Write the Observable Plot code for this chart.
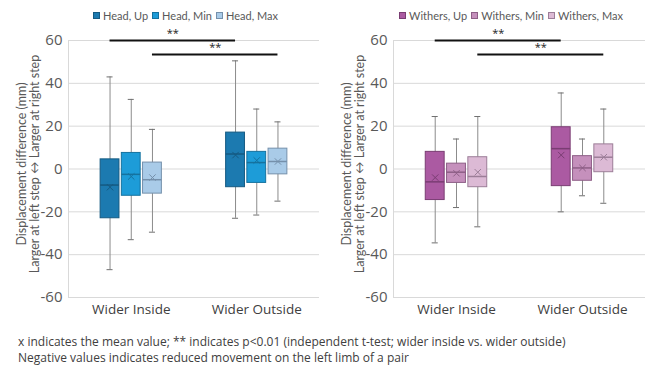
<!DOCTYPE html>
<html>
<head>
<meta charset="utf-8">
<script src="https://cdn.jsdelivr.net/npm/d3@7"></script>
<script src="https://cdn.jsdelivr.net/npm/@observablehq/plot@0.6"></script>
<style>
  body { margin: 0; background: #fff; font-family: "Open Sans", sans-serif; }
  #charts { display: flex; width: 651px; }
  .panel { flex: none; }
  .legend {
    height: 22px; padding-top: 4px; padding-left: 46px;
    display: flex; justify-content: center; align-items: center;
    font-family: Lato, sans-serif; font-size: 11px; color: #595959; white-space: nowrap;
  }
  .legend .item { display: inline-flex; align-items: center; margin: 0 2px; }
  .legend .sw { width: 7px; height: 7px; margin-right: 3px; box-sizing: border-box; border: 1px solid; }
  .panel svg { display: block; }
  #caption { padding: 8px 0 0 18px; font-size: 12px; line-height: 16px; color: #404040; }
</style>
</head>
<body>
<div id="charts">
  <div class="panel" id="head"></div>
  <div class="panel" id="withers"></div>
</div>
<div id="caption">
  <div>x indicates the mean value; ** indicates p&lt;0.01 (independent t-test; wider inside vs. wider outside)</div>
  <div>Negative values indicates reduced movement on the left limb of a pair</div>
</div>
<script>
// Stance-width groups and value-axis ticks
const groups = ["Wider Inside", "Wider Outside"];
const yTicks = [-60, -40, -20, 0, 20, 40, 60];

// Head displacement difference (mm); rows: group, columns: Up, Min, Max
const headSeries = ["Head, Up", "Head, Min", "Head, Max"];
const headLow    = [[-47.0, -33.0, -29.5], [-23.0, -21.5, -15.0]];
const headQ1     = [[-23.0, -12.5, -11.5], [ -8.5,  -6.5,  -2.5]];
const headMedian = [[ -7.5,  -2.5,  -5.0], [  7.0,   3.0,   3.5]];
const headQ3     = [[  4.5,   7.5,   3.0], [ 17.0,   8.0,   9.5]];
const headHigh   = [[ 43.0,  32.5,  18.5], [ 50.5,  28.0,  22.0]];
const headMean   = [[ -8.5,  -3.5,  -4.0], [  6.5,   4.0,   3.5]];

// Withers displacement difference (mm); rows: group, columns: Up, Min, Max
const withersSeries = ["Withers, Up", "Withers, Min", "Withers, Max"];
const withersLow    = [[-34.5, -18.0, -27.0], [-20.0, -12.5, -16.0]];
const withersQ1     = [[-14.5,  -6.5,  -8.5], [ -8.0,  -5.5,  -1.5]];
const withersMedian = [[ -6.0,  -1.5,  -3.5], [  9.5,   0.5,   5.5]];
const withersQ3     = [[  8.0,   2.5,   5.5], [ 19.5,   6.0,  11.5]];
const withersHigh   = [[ 24.5,  14.0,  24.5], [ 35.5,  14.0,  28.0]];
const withersMean   = [[ -4.0,  -2.0,  -1.5], [  6.5,   0.5,   5.5]];

// Significant wider-inside vs wider-outside comparisons: series index, bracket level, label
const sigSeries = [0, 2];
const sigLevels = [60, 53.5];
const sigLabels = ["**", "**"];

// Box styling per series
const headFill = ["#1c7ab0", "#1d9cd8", "#a9cbe8"];
const headStroke = ["#155a82", "#15729f", "#7590ab"];
const withersFill = ["#ab5aa2", "#c590bc", "#dcbad5"];
const withersStroke = ["#7a3d73", "#8e5f87", "#9c7e98"];

// Layout within a group: series spacing and box half-width, in group units
const SERIES_STEP = 0.169;
const BOX_HALF = 0.075;
const CAP_HALF = 0.024;
const centre = (gi, si) => gi + 0.5 + (si - 1) * SERIES_STEP;

function legend(series, fills, strokes) {
  const div = document.createElement("div");
  div.className = "legend";
  series.forEach((s, i) => {
    const item = document.createElement("span");
    item.className = "item";
    const sw = document.createElement("span");
    sw.className = "sw";
    sw.style.background = fills[i];
    sw.style.borderColor = strokes[i];
    const t = document.createElement("span");
    t.textContent = s;
    item.append(sw, t);
    div.append(item);
  });
  return div;
}

function panel(el, width, spec) {
  const {series, low, q1, median, q3, high, mean, fill, stroke} = spec;
  const rows = [];
  groups.forEach((g, gi) => series.forEach((s, si) => rows.push({
    group: g, series: s, si,
    x: centre(gi, si),
    low: low[gi][si], q1: q1[gi][si], median: median[gi][si],
    q3: q3[gi][si], high: high[gi][si], mean: mean[gi][si]
  })));
  const brackets = sigSeries.map((si, k) => ({
    x1: centre(0, si), x2: centre(1, si),
    xm: (centre(0, si) + centre(1, si)) / 2,
    y: sigLevels[k], label: sigLabels[k]
  }));
  const fillOf = d => fill[d.si];
  const strokeOf = d => stroke[d.si];

  const chart = Plot.plot({
    width, height: 300,
    marginTop: 14, marginBottom: 29, marginLeft: 68, marginRight: 6,
    x: {domain: [0, 2]},
    y: {domain: [-60, 60]},
    style: {fontFamily: "Open Sans, sans-serif", fontSize: "14px", background: "white", overflow: "visible"},
    marks: [
      Plot.gridY(yTicks, {stroke: "#d9d9d9", strokeOpacity: 1}),
      Plot.ruleX([0], {stroke: "#d9d9d9"}),
      Plot.axisY(yTicks, {tickSize: 0, tickPadding: 6, fontSize: 15, fill: "#595959", label: null,
        tickFormat: d => String(d)}),
      Plot.axisX([0.5, 1.5], {tickSize: 0, tickPadding: 7, fontSize: 13.5, fill: "#404040", label: null,
        tickFormat: v => groups[Math.floor(v)]}),
      // y-axis title, two lines, centred on the value axis
      Plot.text(["Displacement difference (mm)\nLarger at left step \u2194 Larger at right step"], {
        text: d => d, frameAnchor: "left", textAnchor: "middle", rotate: -90, dx: -40, dy: -5,
        fontFamily: "'Liberation Sans Narrow', Lato, sans-serif", fontSize: 12.5, lineHeight: 1.0, fill: "#595959"
      }),
      // whiskers and caps
      Plot.ruleX(rows, {x: "x", y1: "low", y2: "high", stroke: "#8c8c8c", strokeWidth: 1}),
      Plot.ruleY(rows, {y: "low", x1: d => d.x - CAP_HALF, x2: d => d.x + CAP_HALF, stroke: "#6f6f6f", strokeWidth: 1}),
      Plot.ruleY(rows, {y: "high", x1: d => d.x - CAP_HALF, x2: d => d.x + CAP_HALF, stroke: "#6f6f6f", strokeWidth: 1}),
      // interquartile boxes
      Plot.rect(rows, {x1: d => d.x - BOX_HALF, x2: d => d.x + BOX_HALF, y1: "q1", y2: "q3",
        fill: fillOf, stroke: strokeOf, strokeWidth: 1}),
      // medians
      Plot.ruleY(rows, {y: "median", x1: d => d.x - BOX_HALF, x2: d => d.x + BOX_HALF, stroke: strokeOf, strokeWidth: 1.5}),
      // means
      Plot.dot(rows, {x: "x", y: "mean", symbol: "times", r: 3, stroke: strokeOf, strokeWidth: 1}),
      // significance brackets
      Plot.ruleY(brackets, {y: "y", x1: "x1", x2: "x2", stroke: "#111", strokeWidth: 2}),
      Plot.text(brackets, {x: "xm", y: "y", text: "label", dy: -7, fontSize: 11, fill: "#222"})
    ]
  });
  el.append(legend(series, fill, stroke), chart);
  el.style.width = width + "px";
}

panel(document.getElementById("head"), 325, {
  series: headSeries, low: headLow, q1: headQ1, median: headMedian, q3: headQ3,
  high: headHigh, mean: headMean, fill: headFill, stroke: headStroke
});
panel(document.getElementById("withers"), 326, {
  series: withersSeries, low: withersLow, q1: withersQ1, median: withersMedian, q3: withersQ3,
  high: withersHigh, mean: withersMean, fill: withersFill, stroke: withersStroke
});
</script>
</body>
</html>
